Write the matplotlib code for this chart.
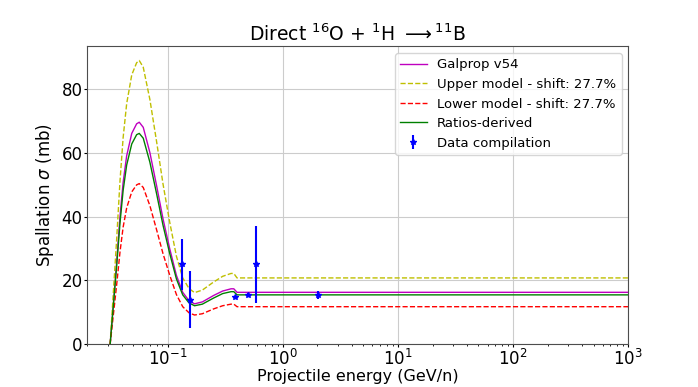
import matplotlib
matplotlib.use("Agg")
import matplotlib.pyplot as plt
import numpy as np

# model curves (energy in GeV/n, sigma in mb)
energy = [0.0316, 0.036, 0.0385, 0.041, 0.044, 0.0487, 0.0537, 0.0566, 0.0613,
          0.070, 0.080, 0.091, 0.104, 0.119, 0.135, 0.153, 0.171, 0.20, 0.25,
          0.30, 0.355, 0.375, 0.40, 1000]
galprop = [0, 25.7, 40.0, 50.7, 59.0, 66.0, 69.0, 69.5, 67.9, 60.0, 49.7, 39.3,
           30.0, 21.6, 16.3, 13.7, 12.7, 13.3, 15.3, 16.7, 17.4, 17.4, 16.3, 16.3]
upper = [0, 32.8, 51.1, 64.7, 75.3, 84.3, 88.1, 88.8, 86.7, 76.6, 63.5, 50.2,
         38.3, 27.6, 20.8, 17.5, 16.2, 17.0, 19.5, 21.3, 22.2, 22.2, 20.8, 20.8]
lower = [0, 18.6, 28.9, 36.7, 42.7, 47.7, 49.9, 50.3, 49.1, 43.4, 35.9, 28.4,
         21.7, 15.6, 11.8, 9.9, 9.2, 9.6, 11.1, 12.1, 12.6, 12.6, 11.8, 11.8]
ratios = [0, 24.4, 38.0, 48.2, 56.1, 62.7, 65.6, 66.0, 64.5, 57.0, 47.2, 37.3,
          28.5, 20.5, 15.5, 13.0, 12.1, 12.6, 14.5, 15.9, 16.5, 16.5, 15.5, 15.5]

# data compilation
data_E = [0.134, 0.155, 0.384, 0.50, 0.585, 2.04]
data_xs = [25.0, 14.0, 14.7, 15.5, 25.0, 15.4]
data_err = [8.0, 9.0, 0.6, 0.6, 12.0, 1.3]

fig, ax = plt.subplots(figsize=(6.98, 3.87), dpi=100)

ax.plot(energy, galprop, color='m', lw=1, label="Galprop v54")
ax.plot(energy, upper, 'y--', lw=1, label="Upper model - shift: 27.7%")
ax.plot(energy, lower, 'r--', lw=1, label="Lower model - shift: 27.7%")
ax.plot(energy, ratios, color='g', lw=1, label="Ratios-derived")
ax.errorbar(data_E, data_xs, yerr=data_err, fmt='b*', ms=4, elinewidth=1.5,
            label="Data compilation")

ax.set_xscale('log')
ax.set_xlim(0.02, 1000)
ax.set_ylim(0, 93.2)
ax.grid(True, color='0.8')
ax.tick_params(which='major', labelsize=12, length=2.5, pad=1)
ax.tick_params(which='minor', length=1.5)
for sp in ax.spines.values():
    sp.set_color('0.3')
ax.set_xlabel("Projectile energy (GeV/n)", fontsize=11.5, labelpad=0)
ax.set_ylabel(r"Spallation $\sigma$ (mb)", fontsize=12, labelpad=4)
ax.set_title(r"Direct $^{16}$O + $^{1}$H $\longrightarrow$$^{11}$B", fontsize=13.5, pad=4)
ax.legend(loc='upper right', fontsize=9.5)

fig.savefig("out.png", dpi=100)
